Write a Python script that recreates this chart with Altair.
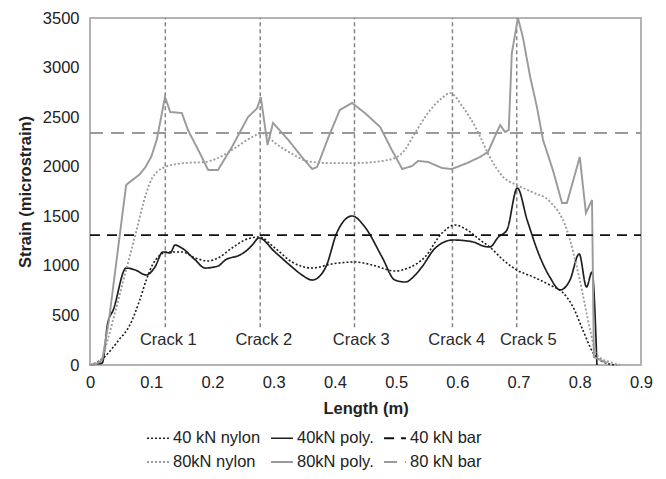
import altair as alt
import pandas as pd

series_names = ["40 kN nylon", "40kN poly.", "40 kN bar", "80kN nylon", "80kN poly.", "80 kN bar"]
series_colors = ["#1e1e1e", "#1e1e1e", "#111111", "#9a9a9a", "#9a9a9a", "#9a9a9a"]
series_dash = [[2, 2], [1, 0], [10, 7], [2, 2], [1, 0], [13, 8]]
series_width = [1.6, 2.0, 2.8, 1.4, 1.6, 2.8]

n40_x = [0, 0.012, 0.025, 0.047, 0.064, 0.081, 0.092, 0.102, 0.113, 0.126, 0.150, 0.172, 0.193, 0.209,
         0.232, 0.253, 0.276, 0.302, 0.330, 0.363, 0.395, 0.433, 0.461, 0.498, 0.520, 0.547, 0.575,
         0.596, 0.616, 0.637, 0.653, 0.675, 0.697, 0.724, 0.751, 0.773, 0.789, 0.805, 0.822, 0.838, 0.860]
n40_y = [0, 30, 90, 252, 390, 650, 860, 1010, 1100, 1140, 1140, 1079, 1049, 1079,
         1180, 1261, 1291, 1180, 1039, 978, 1019, 1039, 1009, 948, 978, 1089, 1331,
         1412, 1362, 1261, 1190, 1059, 958, 888, 807, 726, 585, 353, 121, 30, 0]

p40_x = [0, 0.010, 0.020, 0.029, 0.038, 0.059, 0.074, 0.092, 0.106, 0.119, 0.131, 0.139, 0.150, 0.172,
         0.188, 0.209, 0.221, 0.245, 0.255, 0.265, 0.276, 0.302, 0.330, 0.348, 0.363, 0.375, 0.386,
         0.403, 0.428, 0.449, 0.477, 0.498, 0.515, 0.530, 0.542, 0.564, 0.593, 0.626, 0.642, 0.653,
         0.667, 0.681, 0.698, 0.714, 0.735, 0.751, 0.768, 0.784, 0.799, 0.811, 0.820, 0.828]
p40_y = [0, 10, 20, 424, 555, 978, 958, 908, 988, 1140, 1130, 1210, 1180, 1059,
         978, 998, 1059, 1110, 1150, 1210, 1281, 1140, 988, 900, 857, 895, 1000,
         1331, 1503, 1392, 1089, 857, 837, 900, 988, 1180, 1261, 1241, 1200, 1190,
         1291, 1362, 1785, 1463, 1089, 888, 757, 857, 1120, 787, 938, 0]

n80_x = [0, 0.018, 0.030, 0.042, 0.056, 0.074, 0.092, 0.101, 0.110, 0.124, 0.155, 0.188, 0.209, 0.237,
         0.265, 0.281, 0.302, 0.330, 0.356, 0.389, 0.433, 0.487, 0.510, 0.531, 0.552, 0.575, 0.588,
         0.609, 0.632, 0.653, 0.675, 0.697, 0.724, 0.751, 0.779, 0.800, 0.817, 0.828, 0.854, 0.870]
n80_y = [0, 50, 280, 555, 888, 1311, 1735, 1880, 1950, 2000, 2037, 2048, 2088, 2189,
         2300, 2340, 2240, 2130, 2055, 2037, 2037, 2068, 2138, 2340, 2542, 2693, 2743,
         2602, 2370, 2098, 1896, 1815, 1740, 1650, 1362, 857, 353, 100, 20, 0]

p80_x = [0, 0.010, 0.020, 0.031, 0.059, 0.069, 0.080, 0.090, 0.100, 0.109, 0.1225, 0.131, 0.150, 0.160,
         0.180, 0.193, 0.209, 0.232, 0.258, 0.273, 0.279, 0.290, 0.299, 0.324, 0.346, 0.363, 0.371,
         0.389, 0.408, 0.428, 0.449, 0.474, 0.493, 0.510, 0.526, 0.536, 0.552, 0.575, 0.591, 0.616,
         0.637, 0.650, 0.661, 0.670, 0.678, 0.684, 0.689, 0.699, 0.707, 0.719, 0.730, 0.740, 0.756,
         0.771, 0.779, 0.800, 0.810, 0.820, 0.823, 0.845]
p80_y = [0, 10, 50, 454, 1815, 1866, 1916, 1990, 2100, 2270, 2703, 2552, 2542, 2370,
         2130, 1967, 1967, 2200, 2500, 2590, 2703, 2219, 2441, 2270, 2098, 1977, 1997,
         2290, 2572, 2643, 2542, 2400, 2169, 1977, 2007, 2058, 2048, 1987, 1977, 2037,
         2098, 2148, 2300, 2420, 2350, 2370, 3147, 3500, 3308, 2905, 2602, 2270, 1967,
         1634, 1634, 2098, 1533, 1664, 80, 20]

bar_x = [0, 0.9]
bar40_y = [1310, 1310]
bar80_y = [2340, 2340]

crack_x = [0.123, 0.278, 0.432, 0.592, 0.697]
crack_low = 380
crack_high = 3500
crack_labels = ["Crack 1", "Crack 2", "Crack 3", "Crack 4", "Crack 5"]
crack_label_x = [0.128, 0.284, 0.443, 0.599, 0.716]
crack_label_y = 250

x_ticks = [0, 0.1, 0.2, 0.3, 0.4, 0.5, 0.6, 0.7, 0.8, 0.9]
y_ticks = [0, 500, 1000, 1500, 2000, 2500, 3000, 3500]


def long(name, xs, ys):
    return pd.DataFrame({"x": xs, "y": ys, "series": name})


smooth_df = pd.concat([long(series_names[0], n40_x, n40_y),
                       long(series_names[1], p40_x, p40_y),
                       long(series_names[3], n80_x, n80_y)], ignore_index=True)
sharp_df = pd.concat([long(series_names[4], p80_x, p80_y),
                      long(series_names[2], bar_x, bar40_y),
                      long(series_names[5], bar_x, bar80_y)], ignore_index=True)
crack_df = pd.DataFrame({"x": crack_x, "y": [crack_low] * len(crack_x), "y2": [crack_high] * len(crack_x)})
label_df = pd.DataFrame({"x": crack_label_x, "y": [crack_label_y] * len(crack_label_x), "t": crack_labels})

FS = 16.5
xenc = alt.X("x:Q", scale=alt.Scale(domain=[0, 0.9], nice=False, zero=False),
             axis=alt.Axis(values=x_ticks, format="~g", title="Length (m)", labelPadding=9,
                           titlePadding=10, labelFlush=False))
yenc = alt.Y("y:Q", scale=alt.Scale(domain=[0, 3500], nice=False),
             axis=alt.Axis(values=y_ticks, format="d", title="Strain (microstrain)", labelPadding=11,
                           titlePadding=9, labelFlush=False))

legend = alt.Legend(title=None, orient="none", legendX=56, legendY=408, columns=3, direction="horizontal",
                    symbolType="stroke", symbolSize=480, labelFontSize=FS, labelColor="#222",
                    columnPadding=6, rowPadding=3, labelOffset=3, labelLimit=200)
color = alt.Color("series:N", scale=alt.Scale(domain=series_names, range=series_colors), legend=legend)
dash = alt.StrokeDash("series:N", scale=alt.Scale(domain=series_names, range=series_dash), legend=legend)
width = alt.StrokeWidth("series:N", scale=alt.Scale(domain=series_names, range=series_width), legend=legend)

cracks = alt.Chart(crack_df).mark_rule(color="#858585", strokeWidth=1.5, strokeDash=[4, 3]).encode(
    x="x:Q", y="y:Q", y2="y2:Q")
labels = alt.Chart(label_df).mark_text(fontSize=FS, color="#2a2a2a", align="center", baseline="middle").encode(
    x="x:Q", y="y:Q", text="t:N")
smooth = alt.Chart(smooth_df).mark_line(interpolate="monotone").encode(
    x=xenc, y=yenc, color=color, strokeDash=dash, strokeWidth=width, detail="series:N")
sharp = alt.Chart(sharp_df).mark_line().encode(
    x=xenc, y=yenc, color=color, strokeDash=dash, strokeWidth=width, detail="series:N")

chart = alt.layer(cracks, labels, smooth, sharp).properties(
    width=551, height=347,
    autosize=alt.AutoSizeParams(type="none"),
    padding={"left": 82, "top": 10, "right": 17, "bottom": 110},
).configure(font="Liberation Sans").configure_axis(
    domain=False, ticks=False, grid=False, labelFontSize=FS, labelColor="#222",
    titleFontSize=FS, titleFontWeight="bold", titleColor="#222"
).configure_view(stroke="#b3b3b3", strokeWidth=2)

chart.save("out.html", embed_options={"renderer": "svg", "actions": False})
